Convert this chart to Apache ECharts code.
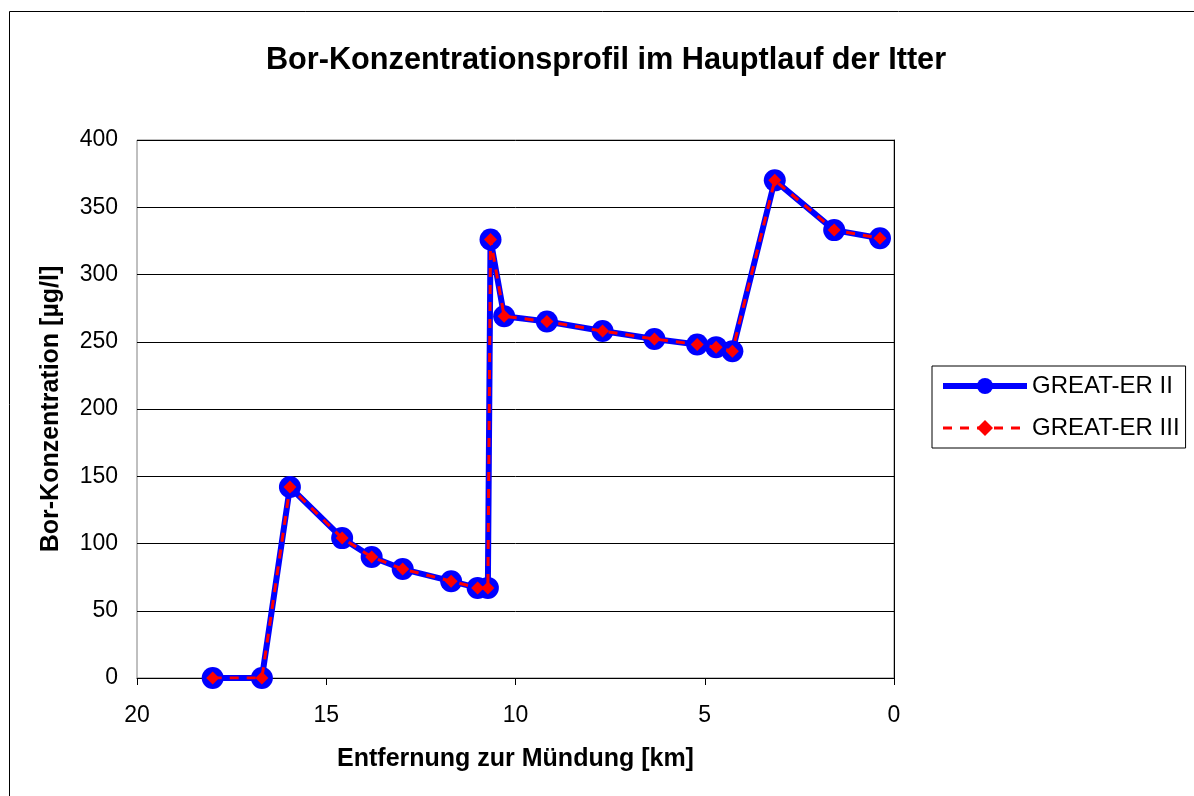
<!DOCTYPE html>
<html>
<head>
<meta charset="utf-8">
<script src="https://cdn.jsdelivr.net/npm/echarts@6/dist/echarts.min.js"></script>
<style>
  html, body { margin: 0; padding: 0; background: #fff; }
  #chart { width: 1194px; height: 796px; }
</style>
</head>
<body>
<div id="chart"></div>
<script>
// Entfernung zur Mündung [km]
var km = [18.0, 16.7, 15.96, 14.58, 13.8, 12.98, 11.7, 11.0, 10.73, 10.66, 10.3, 9.17, 7.7, 6.33, 5.2, 4.7, 4.27, 3.15, 1.58, 0.37];
// Bor-Konzentration [µg/l]
var greatEr2 = [0, 0, 142, 104, 90, 81, 72, 67, 67, 326, 269, 265, 258, 252, 248, 246, 243, 370, 333, 327];
var greatEr3 = [0, 0, 142, 104, 90, 81, 72, 67, 67, 326, 269, 265, 258, 252, 248, 246, 243, 370, 333, 327];

var font = "'Liberation Sans', Arial, sans-serif";

function pairs(xs, ys) {
    var out = [];
    for (var i = 0; i < xs.length; i++) {
        out.push([xs[i], ys[i]]);
    }
    return out;
}

var myChart = echarts.init(document.getElementById('chart'));

var option = {
    backgroundColor: '#fff',
    animation: false,
    textStyle: { fontFamily: font, color: '#000' },
    graphic: [{
        type: 'rect',
        shape: { x: 9.5, y: 11.5, width: 1200, height: 800 },
        style: { fill: 'none', stroke: '#000', lineWidth: 1 }
    }],
    title: {
        text: 'Bor-Konzentrationsprofil im Hauptlauf der Itter',
        left: 601,
        textAlign: 'center',
        top: 40,
        textStyle: { fontFamily: font, fontSize: 30.7, fontWeight: 'bold', color: '#000' }
    },
    legend: {
        orient: 'vertical',
        left: 932,
        top: 366,
        padding: [8, 6, 8, 8],
        borderColor: '#000',
        borderWidth: 1,
        itemWidth: 84,
        itemHeight: 20,
        itemGap: 18,
        textStyle: { fontFamily: font, fontSize: 24, color: '#000' },
        data: [
            { name: 'GREAT-ER II', lineStyle: { width: 6, color: '#0000ff' }, itemStyle: { color: '#0000ff' } },
            { name: 'GREAT-ER III', lineStyle: { width: 3, color: '#ff0000', type: [9, 8] }, itemStyle: { color: '#ff0000' } }
        ]
    },
    grid: {
        left: 137,
        right: 300,
        top: 140,
        bottom: 118,
        show: true,
        borderColor: '#808080',
        borderWidth: 1
    },
    xAxis: {
        type: 'value',
        inverse: true,
        min: 0,
        max: 20,
        interval: 5,
        name: 'Entfernung zur Mündung [km]',
        nameLocation: 'middle',
        nameGap: 69,
        nameTextStyle: { fontFamily: font, fontSize: 25, fontWeight: 'bold', color: '#000' },
        axisLine: { lineStyle: { color: '#000', width: 1 } },
        axisTick: { show: true, inside: false, length: 7, lineStyle: { color: '#000' } },
        axisLabel: { fontFamily: font, fontSize: 23, color: '#000', margin: 26 },
        splitLine: { show: false }
    },
    yAxis: {
        type: 'value',
        min: 0,
        max: 400,
        interval: 50,
        name: 'Bor-Konzentration [µg/l]',
        nameLocation: 'middle',
        nameGap: 73,
        nameTextStyle: { fontFamily: font, fontSize: 25, fontWeight: 'bold', color: '#000' },
        axisLine: { show: true, lineStyle: { color: '#000', width: 1 } },
        axisTick: { show: true, inside: false, length: 7, lineStyle: { color: '#000' } },
        axisLabel: { fontFamily: font, fontSize: 23, color: '#000', margin: 19 },
        splitLine: { show: true, lineStyle: { color: '#000', width: 1 } }
    },
    series: [
        {
            name: 'GREAT-ER II',
            type: 'line',
            data: pairs(km, greatEr2),
            symbol: 'circle',
            symbolSize: 22,
            color: '#0000ff',
            itemStyle: { color: '#0000ff' },
            lineStyle: { color: '#0000ff', width: 6 },
            z: 2
        },
        {
            name: 'GREAT-ER III',
            type: 'line',
            data: pairs(km, greatEr3),
            symbol: 'diamond',
            symbolSize: 13,
            color: '#ff0000',
            itemStyle: { color: '#ff0000' },
            lineStyle: { color: '#ff0000', width: 3, type: [9, 8] },
            z: 3
        }
    ]
};

myChart.setOption(option);
</script>
</body>
</html>
